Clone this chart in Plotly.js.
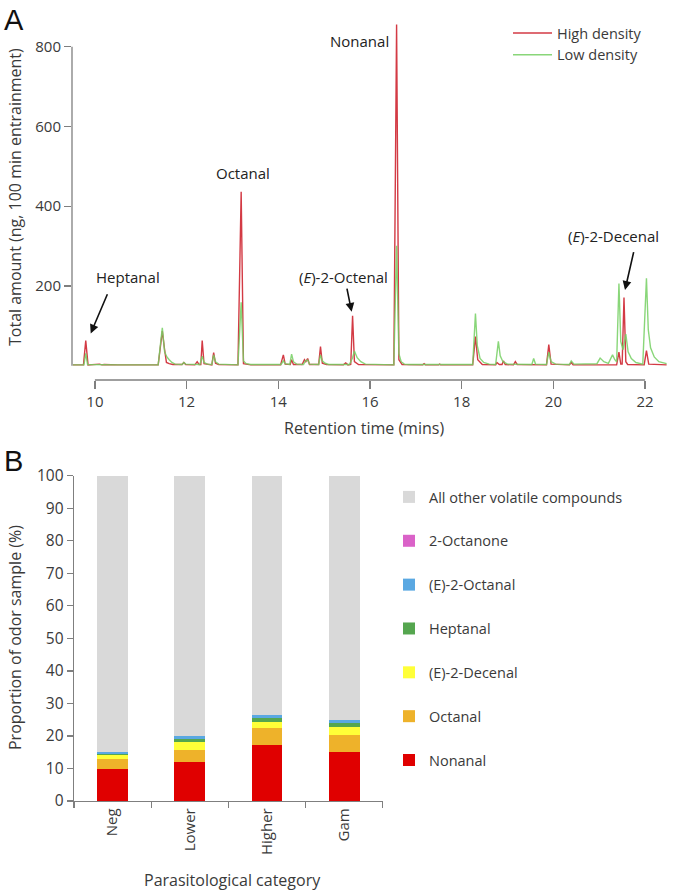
<!DOCTYPE html>
<html>
<head>
<meta charset="utf-8">
<script src="https://cdn.plot.ly/plotly-3.0.1.min.js"></script>
<style>html,body{margin:0;padding:0;background:#fff;}#chart{width:677px;height:892px;}</style>
</head>
<body>
<div id="chart"></div>
<script>
// ---------- Panel A: chromatogram ----------
const highTime = [9.52,9.75,9.80,9.85,10.10,10.15,10.20,10.50,11.38,11.44,11.47,11.52,11.56,11.62,11.70,11.90,11.94,11.98,12.18,12.23,12.27,12.31,12.34,12.38,12.55,12.59,12.63,12.70,13.12,13.19,13.24,13.40,14.05,14.11,14.15,14.26,14.29,14.33,14.52,14.57,14.60,14.64,14.68,14.88,14.92,14.96,15.05,15.42,15.47,15.52,15.58,15.62,15.66,15.75,16.52,16.58,16.63,16.70,17.15,17.18,17.21,17.50,17.52,17.54,18.24,18.30,18.35,18.45,18.74,18.77,18.82,18.88,18.91,18.95,19.13,19.17,19.21,19.85,19.90,19.95,20.35,20.39,20.43,21.38,21.43,21.47,21.50,21.54,21.58,21.62,21.98,22.03,22.08,22.47];
const highAmt  = [2,2,63,2,4,2,3,2,2,60,87,40,8,5,3,3,8,3,2,10,3,3,63,5,2,33,6,3,2,436,5,2,2,27,4,3,15,3,3,15,10,18,3,3,48,6,3,2,7,2,3,125,10,3,2,856,15,3,2,5,2,2,4,2,2,73,15,3,2,8,3,3,12,3,2,10,3,2,53,4,2,8,2,2,34,4,4,171,10,3,2,38,4,2];
const lowTime  = [9.52,9.76,9.80,9.84,10.50,11.38,11.44,11.47,11.52,11.57,11.62,11.68,11.75,11.90,11.94,11.98,12.29,12.34,12.38,12.45,12.55,12.59,12.63,12.70,13.12,13.19,13.24,13.30,13.40,14.06,14.11,14.15,14.25,14.29,14.33,14.40,14.55,14.59,14.64,14.68,14.88,14.92,14.96,15.02,15.10,15.55,15.62,15.66,15.72,15.80,15.90,16.52,16.58,16.63,16.68,16.75,16.85,18.24,18.30,18.34,18.40,18.48,18.60,18.74,18.80,18.84,18.90,19.00,19.53,19.57,19.61,19.85,19.90,19.95,20.05,20.35,20.39,20.45,20.95,21.02,21.10,21.20,21.29,21.34,21.38,21.43,21.47,21.52,21.58,21.63,21.70,21.80,21.95,22.03,22.07,22.12,22.20,22.30,22.47];
const lowAmt   = [2,2,31,3,2,2,65,95,35,22,15,8,4,3,8,4,3,24,8,4,3,27,10,4,2,159,12,5,3,3,12,5,3,29,10,4,3,12,14,4,3,27,12,6,3,3,20,37,20,10,4,2,301,30,10,4,3,3,131,50,18,8,4,3,61,25,10,4,3,18,4,3,34,10,4,3,12,4,5,19,10,6,27,15,10,206,60,40,79,35,18,8,4,219,90,45,22,10,5];
const timeTicks = [10,12,14,16,18,20,22];
const amtTicks  = [200,400,600,800];

// ---------- Panel B: stacked proportions ----------
const categories = ["Neg","Lower","Higher","Gam"];
const nonanal    = [9.75,12.0,17.1,15.2];
const octanal    = [3.05,3.7,5.2,5.2];
const decenal    = [1.2,2.4,2.0,2.2];
const heptanal   = [0.6,0.9,1.1,1.3];
const octenal    = [0.6,0.9,1.1,1.0];
const octanone   = [0,0,0,0];
const otherVol   = [84.8,80.1,73.5,75.1];
const pctTicks   = [0,10,20,30,40,50,60,70,80,90,100];

const W = 677, H = 892;
const FONT = "Open Sans, Liberation Sans, sans-serif";
const AX = "#7f7f7f", TXT = "#3a3a3a";

const traces = [
  {type:"scatter", mode:"lines", x:highTime, y:highAmt, name:"High density",
   line:{color:"#d33a44", width:1.4}, xaxis:"x", yaxis:"y", legend:"legend2", hoverinfo:"skip"},
  {type:"scatter", mode:"lines", x:lowTime, y:lowAmt, name:"Low density", opacity:0.85,
   line:{color:"#74cf62", width:1.4}, xaxis:"x", yaxis:"y", legend:"legend2", hoverinfo:"skip"}
];
const barSeries = [
  ["Nonanal", nonanal, "#e00000"],
  ["Octanal", octanal, "#eeb22a"],
  ["(E)-2-Decenal", decenal, "#ffff38"],
  ["Heptanal", heptanal, "#55a64f"],
  ["(E)-2-Octanal", octenal, "#5aa8e2"],
  ["2-Octanone", octanone, "#da62c8"],
  ["All other volatile compounds", otherVol, "#d9d9d9"]
];
barSeries.forEach(function(s, i){
  traces.push({type:"bar", x:categories, y:s[1], name:s[0], legendgroup:s[0],
    legendrank: 1000 - i,
    marker:{color:s[2], line:{width:0}}, xaxis:"x2", yaxis:"y2", legend:"legend"});
});

const px = v => v / W, py = v => 1 - v / H;
const titleFont = {size:16, color:TXT};

const layout = {
  width:W, height:H, margin:{l:0,r:0,t:0,b:0}, paper_bgcolor:"#fff", plot_bgcolor:"rgba(0,0,0,0)",
  font:{family:FONT, color:TXT, size:15},
  showlegend:true, barmode:"stack", bargap:0.6,
  xaxis:{domain:[px(72), px(668)], range:[9.5,22.5], anchor:"y", showgrid:false, zeroline:false,
    showline:false, ticks:"outside", ticklen:8, tickwidth:1.3, tickcolor:AX, tickvals:timeTicks,
    tickfont:{size:15, color:TXT}, automargin:false},
  yaxis:{domain:[py(380), py(20)], range:[-35.9, 867], anchor:"x", showgrid:false, zeroline:false,
    showline:false, ticks:"outside", ticklen:7, tickwidth:1.3, tickcolor:AX, tickvals:amtTicks,
    tickfont:{size:15, color:TXT}, automargin:false},
  xaxis2:{domain:[px(74), px(382.7)], anchor:"y2", type:"category", showgrid:false, zeroline:false,
    showline:true, linecolor:AX, linewidth:1.3, ticks:"outside", ticklen:6, tickwidth:1.3, tickcolor:AX,
    tickson:"boundaries", tickangle:-90, tickfont:{size:15, color:TXT}, automargin:false},
  yaxis2:{domain:[py(801), py(475.7)], range:[0,100], anchor:"x2", showgrid:false, zeroline:false,
    showline:true, linecolor:AX, linewidth:1.3, ticks:"outside", ticklen:6, tickwidth:1.3, tickcolor:AX,
    tickvals:pctTicks, tickfont:{size:15.5, color:TXT}, automargin:false},
  legend:{x:px(389), xanchor:"left", y:py(481), yanchor:"top", traceorder:"grouped",
    tracegroupgap:22, font:{size:14.5, color:TXT}, bgcolor:"rgba(0,0,0,0)", borderwidth:0},
  legend2:{x:px(508), xanchor:"left", y:py(17), yanchor:"top", traceorder:"normal", itemwidth:39,
    font:{size:14.5, color:TXT}, bgcolor:"rgba(0,0,0,0)", borderwidth:0, tracegroupgap:0},
  shapes:[
    {type:"line", xref:"paper", yref:"y", x0:px(72), x1:px(72), y0:0, y1:800, line:{color:AX, width:1.3}},
    {type:"line", xref:"x", yref:"paper", x0:10, x1:22, y0:py(380), y1:py(380), line:{color:AX, width:1.3}}
  ],
  annotations:[
    {text:"A", xref:"paper", yref:"paper", x:px(2), y:py(2), xanchor:"left", yanchor:"top", showarrow:false,
     font:{family:"Liberation Sans, Arial, sans-serif", size:29, color:"#111"}},
    {text:"B", xref:"paper", yref:"paper", x:px(2), y:py(443), xanchor:"left", yanchor:"top", showarrow:false,
     font:{family:"Liberation Sans, Arial, sans-serif", size:29, color:"#111"}},
    // axis titles
    {text:"Retention time (mins)", xref:"paper", yref:"paper", x:px(364), y:py(428), xanchor:"center", yanchor:"middle", showarrow:false, font:titleFont},
    {text:"Total amount (ng, 100 min entrainment)", xref:"paper", yref:"paper", x:px(15), y:py(197), xanchor:"center", yanchor:"middle", textangle:-90, showarrow:false, font:titleFont},
    {text:"Parasitological category", xref:"paper", yref:"paper", x:px(232), y:py(880), xanchor:"center", yanchor:"middle", showarrow:false, font:titleFont},
    {text:"Proportion of odor sample (%)", xref:"paper", yref:"paper", x:px(15), y:py(638), xanchor:"center", yanchor:"middle", textangle:-90, showarrow:false, font:titleFont},
    // peak labels
    {text:"Heptanal", xref:"x", yref:"y", x:10.715, y:223, showarrow:false, font:{size:15, color:"#222"}},
    {text:"Octanal", xref:"x", yref:"y", x:13.23, y:482.5, showarrow:false, font:{size:15, color:"#222"}},
    {text:"Nonanal", xref:"x", yref:"y", x:15.771, y:815, showarrow:false, font:{size:15, color:"#222"}},
    {text:"(<i>E</i>)-2-Octenal", xref:"x", yref:"y", x:15.411, y:223, showarrow:false, font:{size:15, color:"#222"}},
    {text:"(<i>E</i>)-2-Decenal", xref:"x", yref:"y", x:21.322, y:325, showarrow:false, font:{size:15, color:"#222"}},
    {text:"", xref:"x", yref:"y", x:9.908, y:81, ax:17.3, ay:-40.6, showarrow:true, arrowhead:2, arrowsize:1.1, arrowwidth:1.6, arrowcolor:"#111"},
    {text:"", xref:"x", yref:"y", x:15.60, y:135, ax:-5, ay:-24.7, showarrow:true, arrowhead:2, arrowsize:1.1, arrowwidth:1.6, arrowcolor:"#111"},
    {text:"", xref:"x", yref:"y", x:21.562, y:190, ax:9, ay:-39.3, showarrow:true, arrowhead:2, arrowsize:1.1, arrowwidth:1.6, arrowcolor:"#111"}
  ]
};

Plotly.newPlot("chart", traces, layout, {displayModeBar:false, staticPlot:true});
</script>
</body>
</html>
